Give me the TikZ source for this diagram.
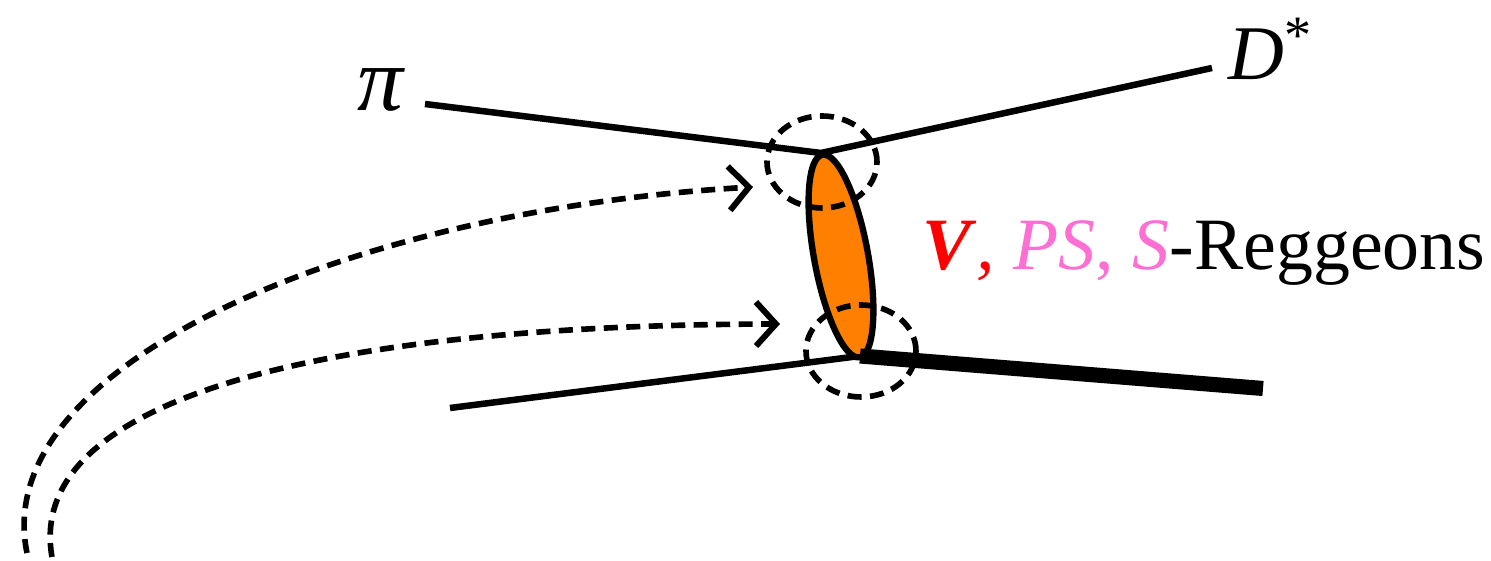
\documentclass[tikz,border=0pt]{standalone}
\usepackage{fontspec}
\setmainfont{Liberation Serif}
\usetikzlibrary{shapes.geometric,arrows.meta}
\definecolor{reggeorange}{RGB}{255,128,0}
\definecolor{pspink}{RGB}{255,110,210}
\tikzset{
  leg/.style={line width=1.85pt},
  heavyleg/.style={line width=4.3pt},
  vring/.style={draw,ellipse,line width=1.6pt,dash pattern=on 4pt off 2.4pt,minimum width=1.1cm,minimum height=0.92cm,inner sep=0pt},
  flow/.style={line width=1.6pt,dash pattern=on 4pt off 2.4pt,-{Straight Barb[length=2mm,width=4.4mm,line width=1.7pt]}},
  lbl/.style={inner sep=0pt,font=\fontsize{21}{25}\selectfont}
}
\begin{document}
\begin{tikzpicture}
  \useasboundingbox (0,0) rectangle (14.91,-5.61);
  % vertices and leg ends
  \coordinate (vtop) at (8.21,-1.53);
  \coordinate (vbot) at (8.60,-3.56);
  \coordinate (piend) at (4.25,-1.04);
  \coordinate (dend) at (12.12,-0.68);
  \coordinate (inend) at (4.50,-4.08);
  \coordinate (outend) at (12.63,-3.885);
  \node[lbl,font=\fontsize{26}{30}\selectfont\itshape] (pi) at (3.80,-0.90) {π};
  \node[lbl,anchor=base west,font=\fontsize{22}{26}\selectfont] (dstar) at (12.28,-0.80) {\textit{D}\textsuperscript{*}};
  \draw[leg] (piend) -- (vtop) -- (dend);
  \draw[leg] (inend) -- (vbot);
  % exchanged reggeon
  \node[draw,ellipse,line width=1.8pt,fill=reggeorange,minimum width=2.06cm,minimum height=0.54cm,inner sep=0pt,rotate=-79.6] (regge) at (8.41,-2.56) {};
  \draw[heavyleg] (vbot) -- (outend);
  \node[vring] (ringtop) at (8.22,-1.62) {};
  \node[vring] (ringbot) at (8.61,-3.51) {};
  \node[lbl,anchor=base west] (rlabel) at (9.22,-2.70)
    {\textcolor{red}{\textbf{\textit{V}}\textit{,}} \textcolor{pspink}{\textit{PS}, \textit{S}}-Reggeons};
  % dashed arrows
  \coordinate (tail1) at (0.27,-5.53);
  \coordinate (head1) at (7.53,-1.87);
  \coordinate (tail2) at (0.52,-5.57);
  \coordinate (head2) at (7.80,-3.24);
  \draw[flow] (tail1) .. controls (-0.12,-3.65) and (3.5,-2.1) .. (head1);
  \draw[flow] (tail2) .. controls (0.25,-4.05) and (3.0,-3.25) .. (head2);
\end{tikzpicture}
\end{document}
